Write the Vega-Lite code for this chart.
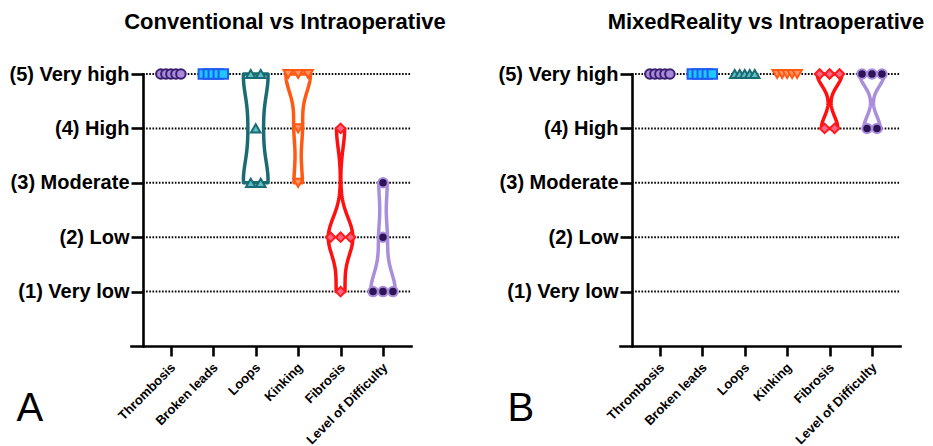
{
  "$schema": "https://vega.github.io/schema/vega-lite/v6.json",
  "background": "white",
  "padding": {"left": 8, "top": 11, "right": 5, "bottom": 0},
  "config": {
    "view": {"stroke": null},
    "font": "Liberation Sans",
    "title": {"font": "Liberation Sans", "fontSize": 22, "fontWeight": "bold", "color": "black", "anchor": "middle"},
    "axis": {"domainColor": "black", "tickColor": "black", "labelColor": "black", "labelFont": "Liberation Sans", "labelFontWeight": "bold", "grid": false, "domainWidth": 2.6, "tickWidth": 2.6, "domainCap": "square", "labelOverlap": false}
  },
  "spacing": 51,
  "datasets": {
    "pts": [
      {"p": "A", "c": 1, "s": 5}, {"p": "A", "c": 1, "s": 5}, {"p": "A", "c": 1, "s": 5}, {"p": "A", "c": 1, "s": 5}, {"p": "A", "c": 1, "s": 5},
      {"p": "A", "c": 2, "s": 5}, {"p": "A", "c": 2, "s": 5}, {"p": "A", "c": 2, "s": 5}, {"p": "A", "c": 2, "s": 5}, {"p": "A", "c": 2, "s": 5},
      {"p": "A", "c": 3, "s": 5}, {"p": "A", "c": 3, "s": 5}, {"p": "A", "c": 3, "s": 4}, {"p": "A", "c": 3, "s": 3}, {"p": "A", "c": 3, "s": 3},
      {"p": "A", "c": 4, "s": 5}, {"p": "A", "c": 4, "s": 5}, {"p": "A", "c": 4, "s": 5}, {"p": "A", "c": 4, "s": 4}, {"p": "A", "c": 4, "s": 3},
      {"p": "A", "c": 5, "s": 4}, {"p": "A", "c": 5, "s": 2}, {"p": "A", "c": 5, "s": 2}, {"p": "A", "c": 5, "s": 2}, {"p": "A", "c": 5, "s": 1},
      {"p": "A", "c": 6, "s": 3}, {"p": "A", "c": 6, "s": 2}, {"p": "A", "c": 6, "s": 1}, {"p": "A", "c": 6, "s": 1}, {"p": "A", "c": 6, "s": 1},
      {"p": "B", "c": 1, "s": 5}, {"p": "B", "c": 1, "s": 5}, {"p": "B", "c": 1, "s": 5}, {"p": "B", "c": 1, "s": 5}, {"p": "B", "c": 1, "s": 5},
      {"p": "B", "c": 2, "s": 5}, {"p": "B", "c": 2, "s": 5}, {"p": "B", "c": 2, "s": 5}, {"p": "B", "c": 2, "s": 5}, {"p": "B", "c": 2, "s": 5},
      {"p": "B", "c": 3, "s": 5}, {"p": "B", "c": 3, "s": 5}, {"p": "B", "c": 3, "s": 5}, {"p": "B", "c": 3, "s": 5}, {"p": "B", "c": 3, "s": 5},
      {"p": "B", "c": 4, "s": 5}, {"p": "B", "c": 4, "s": 5}, {"p": "B", "c": 4, "s": 5}, {"p": "B", "c": 4, "s": 5}, {"p": "B", "c": 4, "s": 5},
      {"p": "B", "c": 5, "s": 5}, {"p": "B", "c": 5, "s": 5}, {"p": "B", "c": 5, "s": 5}, {"p": "B", "c": 5, "s": 4}, {"p": "B", "c": 5, "s": 4},
      {"p": "B", "c": 6, "s": 5}, {"p": "B", "c": 6, "s": 5}, {"p": "B", "c": 6, "s": 5}, {"p": "B", "c": 6, "s": 4}, {"p": "B", "c": 6, "s": 4}
    ],
    "levels": [{"g": 1}, {"g": 2}, {"g": 3}, {"g": 4}, {"g": 5}]
  },
  "hconcat": [
    {
      "width": 280, "height": 272,
      "title": {"text": "Conventional vs Intraoperative", "dx": 14, "offset": 30},
      "layer": [
        {
          "data": {"name": "levels"},
          "mark": {"type": "rule", "color": "black", "strokeWidth": 2, "strokeDash": [1.6, 1.6]},
          "encoding": {
            "y": {"field": "g", "type": "quantitative", "scale": {"domain": [0, 5], "nice": false},
              "axis": {"values": [1, 2, 3, 4, 5], "labelExpr": "['(1) Very low','(2) Low','(3) Moderate','(4) High','(5) Very high'][datum.value - 1]", "labelFontSize": 20, "tickSize": 12, "labelPadding": 2, "offset": -12, "title": "A", "titleAngle": 0, "titleX": -127, "titleY": 346, "titleAlign": "left", "titleBaseline": "alphabetic", "titleFontSize": 40, "titleFontWeight": "normal", "titleFont": "Liberation Sans", "titleColor": "black"}},
            "x": {"datum": 0.34, "type": "quantitative", "scale": {"domain": [0.06, 6.66], "nice": false, "zero": false},
              "axis": {"values": [1, 2, 3, 4, 5, 6], "labelExpr": "['Thrombosis','Broken leads','Loops','Kinking','Fibrosis','Level of Difficulty'][datum.value - 1]", "labelAngle": -45, "labelAlign": "right", "labelBaseline": "middle", "labelPadding": 9, "labelOffset": 2, "labelFontSize": 13, "tickSize": 10, "title": null}},
            "x2": {"datum": 6.66}
          }
        },
        {
          "data": {"name": "pts"},
          "transform": [
            {"filter": "datum.p == 'A' && datum.c == 3"},
            {"density": "s", "groupby": ["c"], "bandwidth": 0.45, "steps": 80, "as": ["v", "d"]},
            {"joinaggregate": [{"op": "max", "field": "d", "as": "dm"}]},
            {"calculate": "datum.c - 0.29 * datum.d / datum.dm", "as": "lo"},
            {"calculate": "datum.c + 0.29 * datum.d / datum.dm", "as": "hi"}
          ],
          "mark": {"type": "area", "orient": "horizontal", "fill": "white", "stroke": "#1a6b73", "strokeWidth": 3.5, "strokeJoin": "round"},
          "encoding": {"y": {"field": "v", "type": "quantitative"}, "x": {"field": "lo", "type": "quantitative"}, "x2": {"field": "hi"}}
        },
        {
          "data": {"name": "pts"},
          "transform": [
            {"filter": "datum.p == 'A' && datum.c == 4"},
            {"density": "s", "groupby": ["c"], "bandwidth": 0.36, "steps": 80, "as": ["v", "d"]},
            {"joinaggregate": [{"op": "max", "field": "d", "as": "dm"}]},
            {"calculate": "datum.c - 0.29 * datum.d / datum.dm", "as": "lo"},
            {"calculate": "datum.c + 0.29 * datum.d / datum.dm", "as": "hi"}
          ],
          "mark": {"type": "area", "orient": "horizontal", "fill": "white", "stroke": "#ff5a14", "strokeWidth": 3.5, "strokeJoin": "round"},
          "encoding": {"y": {"field": "v", "type": "quantitative"}, "x": {"field": "lo", "type": "quantitative"}, "x2": {"field": "hi"}}
        },
        {
          "data": {"name": "pts"},
          "transform": [
            {"filter": "datum.p == 'A' && datum.c == 5"},
            {"density": "s", "groupby": ["c"], "bandwidth": 0.36, "steps": 80, "as": ["v", "d"]},
            {"joinaggregate": [{"op": "max", "field": "d", "as": "dm"}]},
            {"calculate": "datum.c - 0.29 * datum.d / datum.dm", "as": "lo"},
            {"calculate": "datum.c + 0.29 * datum.d / datum.dm", "as": "hi"}
          ],
          "mark": {"type": "area", "orient": "horizontal", "fill": "white", "stroke": "#ff1010", "strokeWidth": 3.5, "strokeJoin": "round"},
          "encoding": {"y": {"field": "v", "type": "quantitative"}, "x": {"field": "lo", "type": "quantitative"}, "x2": {"field": "hi"}}
        },
        {
          "data": {"name": "pts"},
          "transform": [
            {"filter": "datum.p == 'A' && datum.c == 6"},
            {"density": "s", "groupby": ["c"], "bandwidth": 0.37, "steps": 80, "as": ["v", "d"]},
            {"joinaggregate": [{"op": "max", "field": "d", "as": "dm"}]},
            {"calculate": "datum.c - 0.29 * datum.d / datum.dm", "as": "lo"},
            {"calculate": "datum.c + 0.29 * datum.d / datum.dm", "as": "hi"}
          ],
          "mark": {"type": "area", "orient": "horizontal", "fill": "white", "stroke": "#a98fdb", "strokeWidth": 3.5, "strokeJoin": "round"},
          "encoding": {"y": {"field": "v", "type": "quantitative"}, "x": {"field": "lo", "type": "quantitative"}, "x2": {"field": "hi"}}
        },
        {
          "data": {"name": "pts"},
          "transform": [
            {"filter": "datum.p == 'A'"},
            {"window": [{"op": "row_number", "as": "r"}], "groupby": ["c", "s"]},
            {"joinaggregate": [{"op": "count", "as": "n"}], "groupby": ["c", "s"]},
            {"calculate": "datum.c + (datum.r - (datum.n + 1) / 2) * (datum.n >= 4 ? 0.118 : 0.235)", "as": "xp"}
          ],
          "mark": {"type": "point", "filled": true, "size": 90, "strokeWidth": 2, "opacity": 1},
          "encoding": {
            "x": {"field": "xp", "type": "quantitative"},
            "y": {"field": "s", "type": "quantitative"},
            "shape": {"field": "c", "type": "nominal", "scale": {"domain": [1, 2, 3, 4, 5, 6], "range": ["circle", "square", "triangle-up", "triangle-down", "diamond", "circle"]}, "legend": null},
            "fill": {"field": "c", "type": "nominal", "scale": {"domain": [1, 2, 3, 4, 5, 6], "range": ["#a78bdb", "#1ec8ff", "#5cbfc2", "#ff9466", "#ff6688", "#2d1456"]}, "legend": null},
            "stroke": {"field": "c", "type": "nominal", "scale": {"domain": [1, 2, 3, 4, 5, 6], "range": ["#3b1d6e", "#1f5cf2", "#1a6b73", "#ff5a14", "#ff1a1a", "#a98fdb"]}, "legend": null}
          }
        }
      ]
    },
    {
      "width": 280, "height": 272,
      "title": {"text": "MixedReality vs Intraoperative", "dx": 6, "offset": 30},
      "layer": [
        {
          "data": {"name": "levels"},
          "mark": {"type": "rule", "color": "black", "strokeWidth": 2, "strokeDash": [1.6, 1.6]},
          "encoding": {
            "y": {"field": "g", "type": "quantitative", "scale": {"domain": [0, 5], "nice": false},
              "axis": {"values": [1, 2, 3, 4, 5], "labelExpr": "['(1) Very low','(2) Low','(3) Moderate','(4) High','(5) Very high'][datum.value - 1]", "labelFontSize": 20, "tickSize": 12, "labelPadding": 2, "offset": -12, "title": "B", "titleAngle": 0, "titleX": -125, "titleY": 346, "titleAlign": "left", "titleBaseline": "alphabetic", "titleFontSize": 40, "titleFontWeight": "normal", "titleFont": "Liberation Sans", "titleColor": "black"}},
            "x": {"datum": 0.34, "type": "quantitative", "scale": {"domain": [0.06, 6.66], "nice": false, "zero": false},
              "axis": {"values": [1, 2, 3, 4, 5, 6], "labelExpr": "['Thrombosis','Broken leads','Loops','Kinking','Fibrosis','Level of Difficulty'][datum.value - 1]", "labelAngle": -45, "labelAlign": "right", "labelBaseline": "middle", "labelPadding": 9, "labelOffset": 2, "labelFontSize": 13, "tickSize": 10, "title": null}},
            "x2": {"datum": 6.66}
          }
        },
        {
          "data": {"name": "pts"},
          "transform": [
            {"filter": "datum.p == 'B' && datum.c == 5"},
            {"density": "s", "groupby": ["c"], "bandwidth": 0.22, "steps": 80, "as": ["v", "d"]},
            {"joinaggregate": [{"op": "max", "field": "d", "as": "dm"}]},
            {"calculate": "datum.c - 0.29 * datum.d / datum.dm", "as": "lo"},
            {"calculate": "datum.c + 0.29 * datum.d / datum.dm", "as": "hi"}
          ],
          "mark": {"type": "area", "orient": "horizontal", "fill": "white", "stroke": "#ff1010", "strokeWidth": 3.5, "strokeJoin": "round"},
          "encoding": {"y": {"field": "v", "type": "quantitative"}, "x": {"field": "lo", "type": "quantitative"}, "x2": {"field": "hi"}}
        },
        {
          "data": {"name": "pts"},
          "transform": [
            {"filter": "datum.p == 'B' && datum.c == 6"},
            {"density": "s", "groupby": ["c"], "bandwidth": 0.22, "steps": 80, "as": ["v", "d"]},
            {"joinaggregate": [{"op": "max", "field": "d", "as": "dm"}]},
            {"calculate": "datum.c - 0.29 * datum.d / datum.dm", "as": "lo"},
            {"calculate": "datum.c + 0.29 * datum.d / datum.dm", "as": "hi"}
          ],
          "mark": {"type": "area", "orient": "horizontal", "fill": "white", "stroke": "#a98fdb", "strokeWidth": 3.5, "strokeJoin": "round"},
          "encoding": {"y": {"field": "v", "type": "quantitative"}, "x": {"field": "lo", "type": "quantitative"}, "x2": {"field": "hi"}}
        },
        {
          "data": {"name": "pts"},
          "transform": [
            {"filter": "datum.p == 'B'"},
            {"window": [{"op": "row_number", "as": "r"}], "groupby": ["c", "s"]},
            {"joinaggregate": [{"op": "count", "as": "n"}], "groupby": ["c", "s"]},
            {"calculate": "datum.c + (datum.r - (datum.n + 1) / 2) * (datum.n >= 4 ? 0.118 : 0.235)", "as": "xp"}
          ],
          "mark": {"type": "point", "filled": true, "size": 90, "strokeWidth": 2, "opacity": 1},
          "encoding": {
            "x": {"field": "xp", "type": "quantitative"},
            "y": {"field": "s", "type": "quantitative"},
            "shape": {"field": "c", "type": "nominal", "scale": {"domain": [1, 2, 3, 4, 5, 6], "range": ["circle", "square", "triangle-up", "triangle-down", "diamond", "circle"]}, "legend": null},
            "fill": {"field": "c", "type": "nominal", "scale": {"domain": [1, 2, 3, 4, 5, 6], "range": ["#a78bdb", "#1ec8ff", "#5cbfc2", "#ff9466", "#ff6688", "#2d1456"]}, "legend": null},
            "stroke": {"field": "c", "type": "nominal", "scale": {"domain": [1, 2, 3, 4, 5, 6], "range": ["#3b1d6e", "#1f5cf2", "#1a6b73", "#ff5a14", "#ff1a1a", "#a98fdb"]}, "legend": null}
          }
        }
      ]
    }
  ]
}
